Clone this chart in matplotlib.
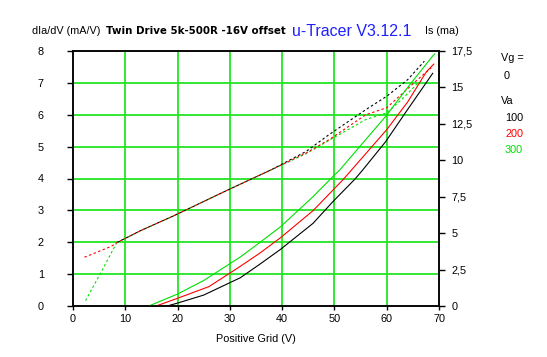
import matplotlib.pyplot as plt

# Is (mA) curves, solid, right axis
v_is_100 = [18, 20, 25, 32, 35.7, 39.7, 45.9, 49.7, 53.9, 55.4, 59.8, 63.7, 68.8]
is_100 = [0, 0.2, 0.75, 1.94, 2.86, 3.89, 5.67, 7.16, 8.7, 9.33, 11.28, 13.33, 15.97]
v_is_200 = [15.9, 20, 26, 31.9, 35.7, 39.7, 45.9, 51.6, 60, 64, 67.6, 69]
is_200 = [0, 0.53, 1.33, 2.70, 3.62, 4.69, 6.54, 8.65, 12.1, 14.0, 16.08, 16.6]
v_is_300 = [14.5, 20, 25, 31.9, 35.7, 39.7, 45.9, 49.7, 51, 60, 64, 68.8, 69.2]
is_300 = [0, 0.82, 1.75, 3.34, 4.35, 5.44, 7.5, 8.88, 9.33, 13.1, 15.0, 17.16, 17.3]

# dIa/dV (mA/V) curves, dashed, left axis
v_gm_100 = [8.5, 13, 19, 30, 38, 44.6, 49, 56, 60, 64, 67.2]
gm_100 = [2.0, 2.37, 2.81, 3.67, 4.28, 4.85, 5.38, 6.16, 6.58, 7.1, 7.68]
v_gm_200 = [2.2, 7.3, 8.5, 13, 19, 30, 38, 44.6, 49, 56, 60, 66.3, 68.5]
gm_200 = [1.53, 1.87, 2.0, 2.37, 2.81, 3.67, 4.28, 4.8, 5.22, 6.0, 6.22, 7.16, 7.47]
v_gm_300 = [2.4, 5.7, 8.3, 13, 19, 30, 38, 44.6, 49, 56, 60, 63, 66]
gm_300 = [0.17, 1.16, 1.97, 2.37, 2.81, 3.67, 4.28, 4.78, 5.2, 5.85, 6.06, 6.5, 7.0]

va_labels = ['100', '200', '300']
colors = ['black', '#ff0000', '#00e000']
x_ticks = [0, 10, 20, 30, 40, 50, 60, 70]
left_ticks = [0, 1, 2, 3, 4, 5, 6, 7, 8]
right_ticks = [0, 2.5, 5, 7.5, 10, 12.5, 15, 17.5]

W, H = 547, 357
fig = plt.figure(figsize=(W / 100, H / 100), dpi=100)
plt.rcParams['font.family'] = ['Liberation Sans', 'DejaVu Sans']
ax = fig.add_axes([73 / W, 1 - 306 / H, 366 / W, 255 / H])
ax2 = ax.twinx()

grid_c = '#22e622'
for x in x_ticks[1:-1]:
    ax.axvline(x, color=grid_c, lw=1.3, zorder=0)
for y in left_ticks[1:-1]:
    ax.axhline(y, color=grid_c, lw=1.3, zorder=0)

dash = (0, (2.2, 2.2))
for v, g, c in zip([v_gm_300, v_gm_200, v_gm_100], [gm_300, gm_200, gm_100], colors[::-1]):
    ax.plot(v, g, color=c, lw=0.8, linestyle=dash)
for v, s, c in zip([v_is_300, v_is_200, v_is_100], [is_300, is_200, is_100], colors[::-1]):
    ax2.plot(v, s, color=c, lw=0.8)

fs = 7.8
ax.set_xlim(0, 70)
ax.set_ylim(0, 8)
ax2.set_ylim(0, 17.5)
ax.set_xticks(x_ticks)
ax.set_yticks(left_ticks)
ax2.set_yticks(right_ticks)
ax2.set_yticklabels([f'{t:g}'.replace('.', ',') for t in right_ticks])
ax.tick_params(axis='y', length=4, width=1, pad=17, labelsize=fs)
ax.tick_params(axis='x', length=3, width=1, pad=3, labelsize=fs)
ax2.tick_params(axis='y', length=4, width=1, pad=5, labelsize=fs)
for a in (ax, ax2):
    for s in a.spines.values():
        s.set_linewidth(1.1)
ax.set_xlabel('Positive Grid (V)', fontsize=fs, labelpad=7)

fig.text(32 / W, 1 - 31 / H, 'dIa/dV (mA/V)', fontsize=fs, va='center')
fig.text(106 / W, 1 - 31 / H, 'Twin Drive 5k-500R -16V offset', fontsize=7.4,
         fontweight='bold', va='center', family='DejaVu Sans')
fig.text(292 / W, 1 - 31 / H, 'u-Tracer V3.12.1', fontsize=11.5, color='#2020ff',
         va='center')
fig.text(425 / W, 1 - 31 / H, 'Is (ma)', fontsize=fs, va='center')

fig.text(501 / W, 1 - 58 / H, 'Vg =', fontsize=fs, va='center')
fig.text(504 / W, 1 - 76 / H, '0', fontsize=fs, va='center')
fig.text(501 / W, 1 - 101 / H, 'Va', fontsize=fs, va='center')
for i, (lab, c) in enumerate(zip(va_labels, colors)):
    fig.text(505 / W, 1 - (118 + 16 * i) / H, lab, fontsize=fs, color=c, va='center')

fig.savefig('out.png', dpi=100)
